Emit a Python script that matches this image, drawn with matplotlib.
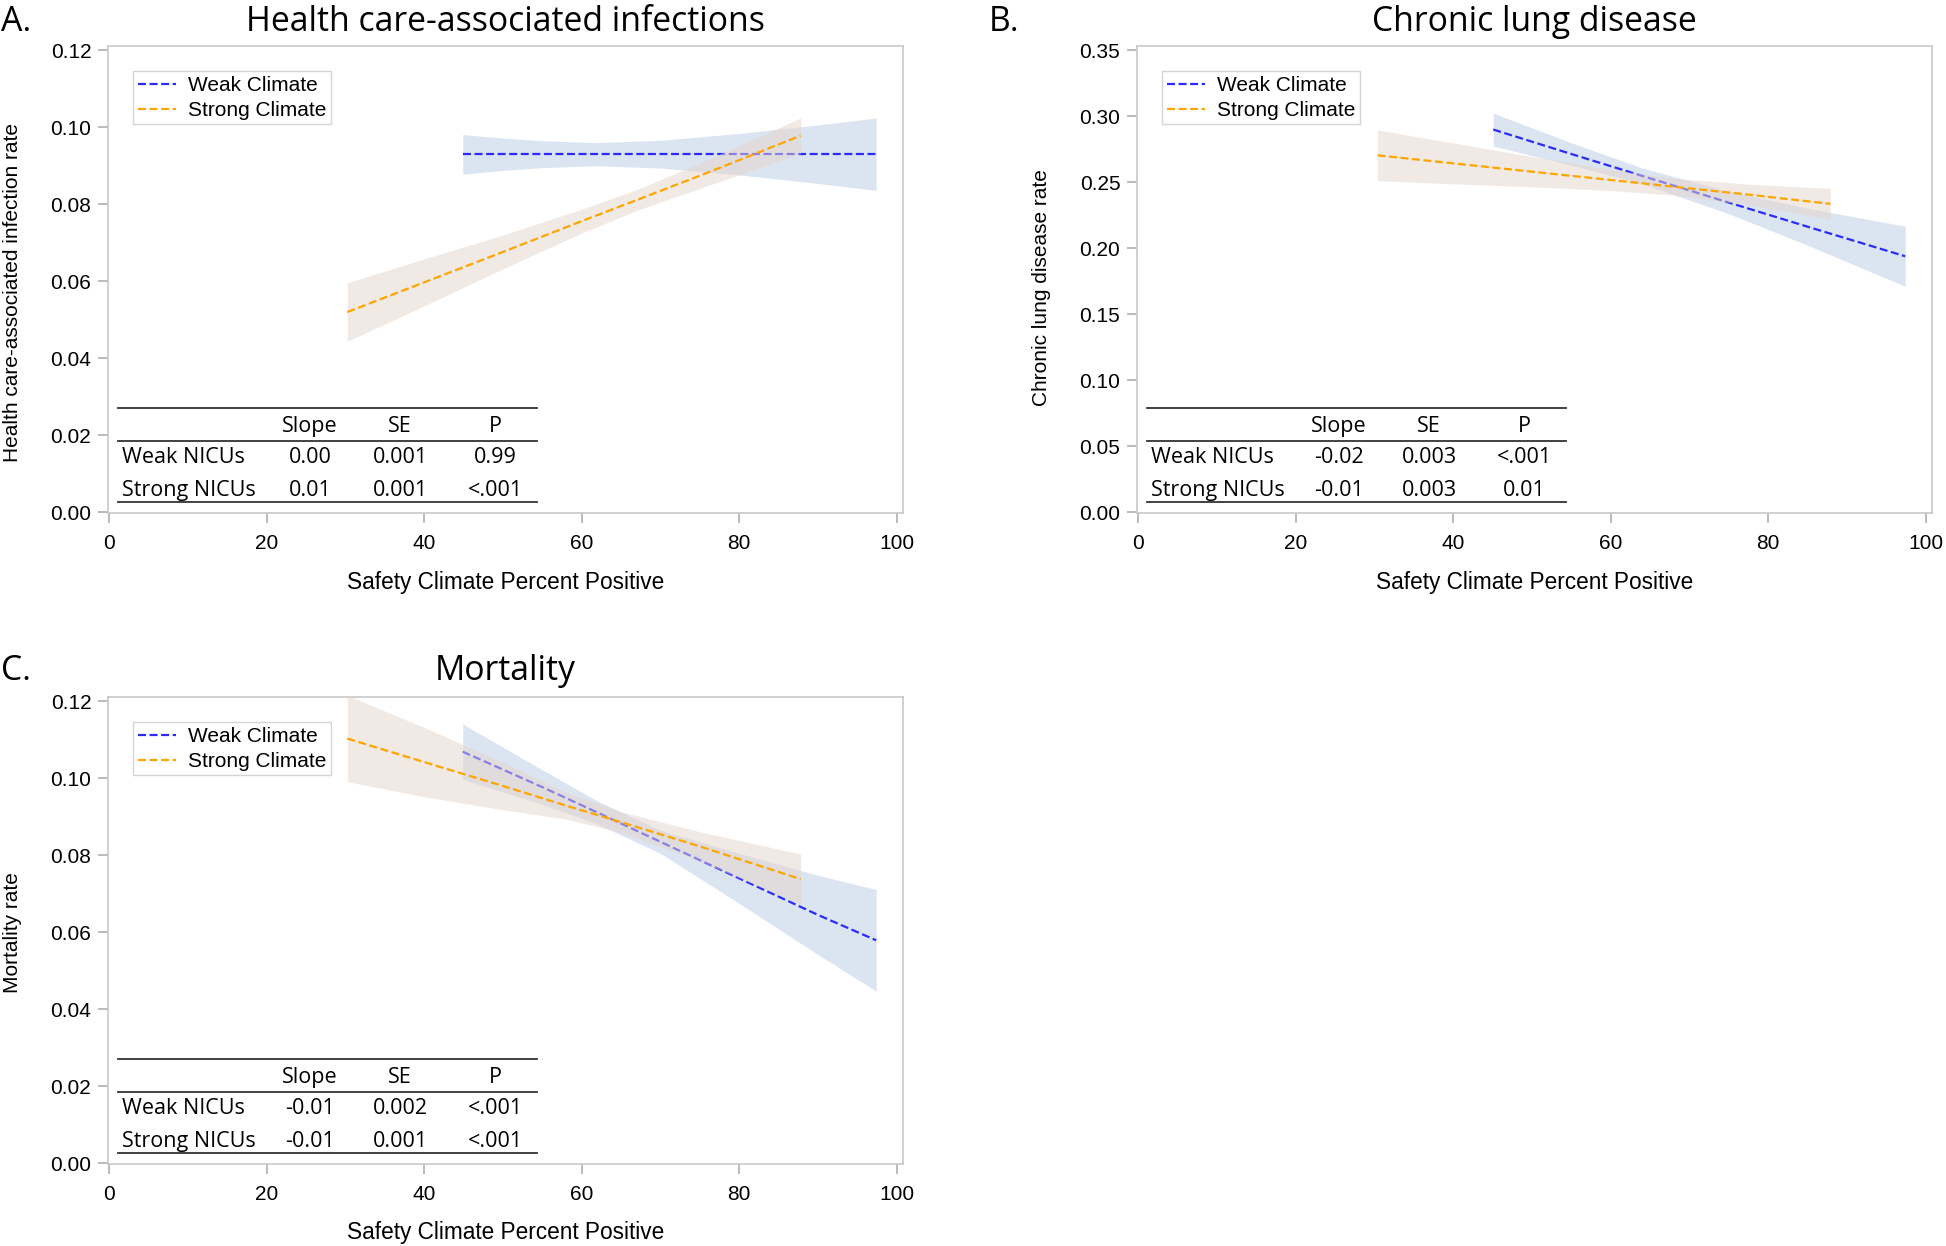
import matplotlib
matplotlib.use("Agg")
import matplotlib.pyplot as plt
from matplotlib.lines import Line2D

# ---------------- data ----------------
x_ticks = [0, 20, 40, 60, 80, 100]
series_names = ["Weak Climate", "Strong Climate"]
table_rows = ["Weak NICUs", "Strong NICUs"]
table_cols = ["Slope", "SE", "P"]

# Panel A: Health care-associated infections
a_weak_x = [44.9, 50, 55, 62, 70, 80, 90, 97.4]
a_weak_y = [0.0930, 0.0930, 0.0930, 0.0930, 0.0930, 0.0930, 0.0930, 0.0930]
a_weak_lo = [0.0878, 0.0888, 0.0895, 0.0900, 0.0894, 0.0876, 0.0854, 0.0836]
a_weak_hi = [0.0981, 0.0972, 0.0965, 0.0960, 0.0966, 0.0984, 0.1006, 0.1024]
a_strong_x = [30.25, 40, 50, 60, 67, 75, 87.8]
a_strong_y = [0.0520, 0.0597, 0.0676, 0.0756, 0.0811, 0.0874, 0.0978]
a_strong_lo = [0.0444, 0.0536, 0.0632, 0.0725, 0.0784, 0.0841, 0.0932]
a_strong_hi = [0.0596, 0.0658, 0.0720, 0.0787, 0.0838, 0.0907, 0.1024]
a_table = [["0.00", "0.001", "0.99"], ["0.01", "0.001", "<.001"]]

# Panel B: Chronic lung disease
b_weak_x = [45.1, 55, 64, 75, 85, 97.4]
b_weak_y = [0.2900, 0.2715, 0.2549, 0.2347, 0.2164, 0.1940]
b_weak_lo = [0.2775, 0.2630, 0.2489, 0.2262, 0.2024, 0.1712]
b_weak_hi = [0.3025, 0.2800, 0.2609, 0.2432, 0.2304, 0.2168]
b_strong_x = [30.4, 40, 50, 60, 68, 78, 87.9]
b_strong_y = [0.2705, 0.2644, 0.2581, 0.2518, 0.2467, 0.2404, 0.2337]
b_strong_lo = [0.2513, 0.2489, 0.2466, 0.2438, 0.2404, 0.2324, 0.2219]
b_strong_hi = [0.2897, 0.2799, 0.2696, 0.2598, 0.2530, 0.2484, 0.2455]
b_table = [["-0.02", "0.003", "<.001"], ["-0.01", "0.003", "0.01"]]

# Panel C: Mortality
c_weak_x = [44.9, 55, 62, 70, 80, 90, 97.4]
c_weak_y = [0.1069, 0.0977, 0.0911, 0.0835, 0.0740, 0.0645, 0.0579]
c_weak_lo = [0.0997, 0.0932, 0.0881, 0.0805, 0.0675, 0.0542, 0.0447]
c_weak_hi = [0.1141, 0.1022, 0.0941, 0.0865, 0.0805, 0.0748, 0.0711]
c_strong_x = [30.25, 40, 50, 58, 65, 75, 87.8]
c_strong_y = [0.1103, 0.1042, 0.0980, 0.0929, 0.0886, 0.0823, 0.0738]
c_strong_lo = [0.0991, 0.0952, 0.0918, 0.0894, 0.0859, 0.0785, 0.0673]
c_strong_hi = [0.1215, 0.1132, 0.1042, 0.0964, 0.0913, 0.0861, 0.0803]
c_table = [["-0.01", "0.002", "<.001"], ["-0.01", "0.001", "<.001"]]

panels = [
    dict(letter="A.", title="Health care-associated infections",
         ylabel="Health care-associated infection rate", ylab_shift=12.5,
         yticks=[0.00, 0.02, 0.04, 0.06, 0.08, 0.10, 0.12], ylim=(-0.0002, 0.1211), fmt="{:.2f}",
         weak=(a_weak_x, a_weak_y, a_weak_lo, a_weak_hi),
         strong=(a_strong_x, a_strong_y, a_strong_lo, a_strong_hi), table=a_table),
    dict(letter="B.", title="Chronic lung disease",
         ylabel="Chronic lung disease rate", ylab_shift=8.5,
         yticks=[0.00, 0.05, 0.10, 0.15, 0.20, 0.25, 0.30, 0.35], ylim=(-0.0005, 0.3533), fmt="{:.2f}",
         weak=(b_weak_x, b_weak_y, b_weak_lo, b_weak_hi),
         strong=(b_strong_x, b_strong_y, b_strong_lo, b_strong_hi), table=b_table),
    dict(letter="C.", title="Mortality",
         ylabel="Mortality rate", ylab_shift=2,
         yticks=[0.00, 0.02, 0.04, 0.06, 0.08, 0.10, 0.12], ylim=(-0.0002, 0.1211), fmt="{:.2f}",
         weak=(c_weak_x, c_weak_y, c_weak_lo, c_weak_hi),
         strong=(c_strong_x, c_strong_y, c_strong_lo, c_strong_hi), table=c_table),
]

# ---------------- style ----------------
W, H = 1946, 1246
fig = plt.figure(figsize=(W / 100, H / 100), dpi=100)
fig.patch.set_facecolor("white")

ARIAL = ["Liberation Sans", "DejaVu Sans"]
MYRIAD = ["Open Sans", "DejaVu Sans"]

weak_line = "#2b2bff"
strong_line = "#ffa500"
weak_band = "#b9cde5"
strong_band = "#e5d5cb"
spine_col = "#c8c8c8"
tick_col = "#a8a8a8"

# axes frames in pixels (left, top, right, bottom)
frames = [(108, 46, 903, 513), (1137, 46, 1932, 513), (108, 697, 903, 1164)]
title_base = [31, 31, 680]

for p, (l, t, r, b), tb in zip(panels, frames, title_base):
    ax = fig.add_axes([l / W, 1 - b / H, (r - l) / W, (b - t) / H])
    ax.set_xlim(-0.13, 100.8)
    ax.set_ylim(*p["ylim"])
    for s in ax.spines.values():
        s.set_color(spine_col)
        s.set_linewidth(1.2)
    ax.set_xticks(x_ticks)
    ax.set_xticklabels([str(v) for v in x_ticks])
    ax.set_yticks(p["yticks"])
    ax.set_yticklabels([p["fmt"].format(v) for v in p["yticks"]])
    ax.tick_params(axis="both", direction="out", length=7, width=1.1, color=tick_col,
                   labelsize=15, pad=5)
    for lab in ax.get_xticklabels() + ax.get_yticklabels():
        lab.set_family(ARIAL)
    ax.tick_params(axis="x", pad=8)

    wx, wy, wlo, whi = p["weak"]
    sx, sy, slo, shi = p["strong"]
    ax.fill_between(wx, wlo, whi, color=weak_band, alpha=0.5, lw=0, zorder=1)
    ax.plot(wx, wy, color=weak_line, lw=1.6, dashes=(3.6, 1.6), zorder=2)
    ax.fill_between(sx, slo, shi, color=strong_band, alpha=0.5, lw=0, zorder=3)
    ax.plot(sx, sy, color=strong_line, lw=1.6, dashes=(3.6, 1.6), zorder=4)

    handles = [Line2D([], [], color=weak_line, lw=1.6, dashes=(3.6, 1.6)),
               Line2D([], [], color=strong_line, lw=1.6, dashes=(3.6, 1.6))]
    leg = ax.legend(handles, series_names, loc="upper left", bbox_to_anchor=(0.0314, 0.9454),
                    borderaxespad=0, frameon=True, fancybox=False, framealpha=1,
                    edgecolor="#d4d4d4", prop={"family": ARIAL, "size": 15},
                    handlelength=1.85, handletextpad=0.55, labelspacing=0.28, borderpad=0.22)
    leg.get_frame().set_linewidth(1.0)

    # summary table
    tf = ax.transAxes
    lx0, lx1 = 0.013, 0.5392
    for yy in (0.2242, 0.155, 0.0231):
        ax.plot([lx0, lx1], [yy, yy], transform=tf, color="#333333", lw=1.3, clip_on=False, zorder=5)
    col_x = [0.2541, 0.3673, 0.4868]
    for cx, name in zip(col_x, table_cols):
        ax.text(cx, 0.186, name, transform=tf, ha="center", va="center",
                family=MYRIAD, fontsize=15.5, zorder=6)
    for ry, rname, vals in zip([0.1197, 0.0486], table_rows, p["table"]):
        ax.text(0.0172, ry, rname, transform=tf, ha="left", va="center",
                family=MYRIAD, fontsize=15.5, zorder=6)
        for cx, v in zip(col_x, vals):
            ax.text(cx, ry, v, transform=tf, ha="center", va="center",
                    family=MYRIAD, fontsize=15.5, zorder=6)

    # titles, panel letters, axis labels
    cxp = (l + r) / 2
    fig.text(cxp / W, 1 - tb / H, p["title"], ha="center", va="baseline",
             family=MYRIAD, fontsize=24.3)
    letter_x = 1 if l < 500 else 989
    fig.text(letter_x / W, 1 - tb / H, p["letter"], ha="left", va="baseline",
             family=MYRIAD, fontsize=24.3)
    fig.text(cxp / W, 1 - (b + 69) / H, "Safety Climate Percent Positive", ha="center", va="center",
             family=ARIAL, fontsize=16.3)
    fig.text((l - 95.5) / W, 1 - ((t + b) / 2 + p["ylab_shift"]) / H, p["ylabel"], ha="center",
             va="center", rotation=90, family=ARIAL, fontsize=15)

fig.savefig("out.png", dpi=100, facecolor="white")
